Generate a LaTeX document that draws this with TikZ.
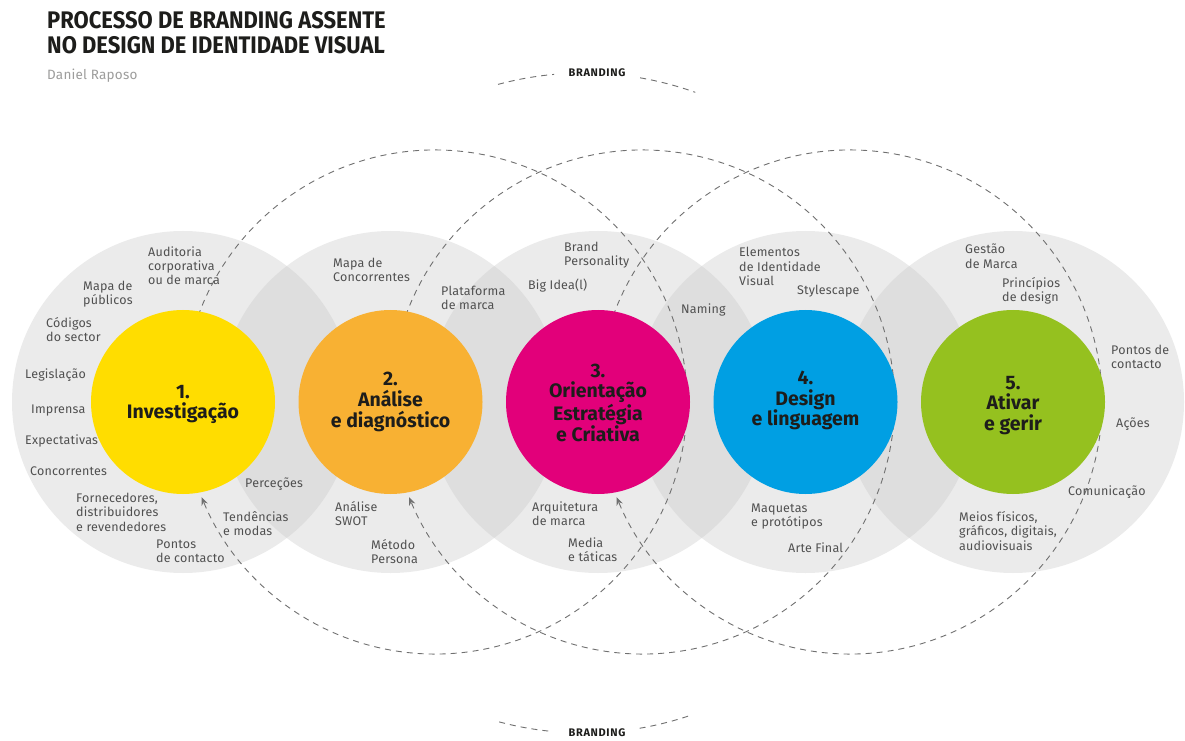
\documentclass[tikz,border=0pt]{standalone}
\usepackage{fontspec}
\setmainfont{Fira Sans}
\usetikzlibrary{arrows.meta}
\definecolor{cyel}{HTML}{FFDD00}
\definecolor{corg}{HTML}{F8B133}
\definecolor{cmag}{HTML}{E2007A}
\definecolor{cblu}{HTML}{009FE3}
\definecolor{cgrn}{HTML}{95C11F}
\definecolor{halogray}{HTML}{C6C6C6}
\definecolor{labelc}{HTML}{505050}
\definecolor{titlec}{HTML}{1D1D1B}
\definecolor{authorc}{HTML}{9D9D9C}
\definecolor{dashc}{HTML}{707070}
\begin{document}
\begin{tikzpicture}[x=1pt,y=1pt,
  lbl/.style={anchor=base west, align=left, inner sep=0pt, text=labelc, font=\fontsize{12.5}{14.5}\selectfont\addfontfeature{LetterSpace=1.5}},
  ctr/.style={align=center, inner sep=0pt, text=titlec, font=\bfseries\fontsize{19.5}{20.8}\selectfont},
  halo/.style={circle, fill=halogray, fill opacity=0.35, minimum size=342pt, inner sep=0pt, outer sep=0pt},
  core/.style={circle, minimum size=184pt, inner sep=0pt, outer sep=0pt},
  flow/.style={draw=dashc, line width=0.9pt, dash pattern=on 6pt off 5pt, -{Stealth[length=8pt,width=6.5pt]}},
  brand/.style={draw=dashc, line width=0.9pt, dash pattern=on 6pt off 5pt},
  brandtxt/.style={inner sep=0pt, text=titlec, font=\bfseries\fontsize{11}{13}\selectfont\addfontfeature{LetterSpace=6}}
]
\fill[white] (0,0) rectangle (1185,740);
\useasboundingbox (0,0) rectangle (1185,740);

% title
\node[anchor=base west, align=left, inner sep=0pt, text=titlec, font=\bfseries\fontsize{24}{25}\selectfont\addfontfeature{FakeStretch=0.915}] (title) at (47,686) {PROCESSO DE BRANDING ASSENTE\\NO DESIGN DE IDENTIDADE VISUAL};
\node[anchor=base west, inner sep=0pt, text=authorc, font=\fontsize{13.5}{15}\selectfont\addfontfeature{LetterSpace=1.5}] (author) at (47,660) {Daniel Raposo};

% centres
\coordinate (c1) at (183,338);
\coordinate (c2) at (390.5,338);
\coordinate (c3) at (598,338);
\coordinate (c4) at (805.5,338);
\coordinate (c5) at (1013,338);
\coordinate (d1) at (435,338);
\coordinate (d2) at (642.5,338);
\coordinate (d3) at (850,338);
\coordinate (bc) at (584,337);

% halos
\node[halo] (h1) at (c1) {};
\node[halo] (h2) at (c2) {};
\node[halo] (h3) at (c3) {};
\node[halo] (h4) at (c4) {};
\node[halo] (h5) at (c5) {};

% branding arcs
\draw[brand] (bc) ++(105.1:330) arc[start angle=105.1, end angle=95.2, radius=330];
\draw[brand] (bc) ++(80.2:330) arc[start angle=80.2, end angle=70.3, radius=330];
\draw[brand] (bc) ++(255.1:330) arc[start angle=255.1, end angle=264.6, radius=330];
\draw[brand] (bc) ++(279.7:330) arc[start angle=279.7, end angle=289.1, radius=330];
\node[brandtxt] (brtop) at (597,667) {BRANDING};
\node[brandtxt] (brbot) at (597,7) {BRANDING};

% flow circles
\draw[flow] (d1) ++(165:252) arc[start angle=165, end angle=-157.8, radius=252];
\draw[flow] (d2) ++(165:252) arc[start angle=165, end angle=-157.8, radius=252];
\draw[flow] (d3) ++(165:252) arc[start angle=165, end angle=-157.8, radius=252];

% cores
\node[core, fill=cyel] (k1) at (c1) {};
\node[core, fill=corg] (k2) at (c2) {};
\node[core, fill=cmag] (k3) at (c3) {};
\node[core, fill=cblu] (k4) at (c4) {};
\node[core, fill=cgrn] (k5) at (c5) {};

\node[ctr] (t1) at (183,335.5) {1.\\Investigação};
\node[ctr] (t2) at (390.5,338) {2.\\Análise\\e diagnóstico};
\node[ctr] (t3) at (598,337.5) {3.\\Orientação\\Estratégia\\e Criativa};
\node[ctr] (t4) at (805.5,339.5) {4.\\Design\\e linguagem};
\node[ctr] (t5) at (1013,334.5) {5.\\Ativar\\e gerir};

% labels stage 1
\node[lbl] (a1) at (148,455) {Auditoria\\corporativa\\ou de marca};
\node[lbl] (a2) at (83,435.5) {Mapa de\\públicos};
\node[lbl] (a3) at (46,398.5) {Códigos\\do sector};
\node[lbl] (a4) at (25,362) {Legislação};
\node[lbl] (a5) at (31,327) {Imprensa};
\node[lbl] (a6) at (25,296) {Expectativas};
\node[lbl] (a7) at (30,265) {Concorrentes};
\node[lbl] (a8) at (76,209) {Fornecedores,\\distribuidores\\e revendedores};
\node[lbl] (a9) at (156,177.5) {Pontos\\de contacto};
\node[lbl] (a10) at (223,204.5) {Tendências\\e modas};
\node[lbl] (a11) at (245,253) {Perceções};
% stage 2
\node[lbl] (b1) at (333,458.5) {Mapa de\\Concorrentes};
\node[lbl] (b2) at (441,430.5) {Plataforma\\de marca};
\node[lbl] (b3) at (335,214.5) {Análise\\SWOT};
\node[lbl] (b4) at (371,176.5) {Método\\Persona};
% stage 3
\node[lbl] (e1) at (564,474.5) {Brand\\Personality};
\node[lbl] (e2) at (528,450) {Big Idea(l)};
\node[lbl] (e3) at (681,426) {Naming};
\node[lbl] (e4) at (532,214.5) {Arquitetura\\de marca};
\node[lbl] (e5) at (568,178.5) {Media\\e táticas};
% stage 4
\node[lbl] (f1) at (739,454) {Elementos\\de Identidade\\Visual};
\node[lbl] (f2) at (797,445) {Stylescape};
\node[lbl] (f3) at (751,213.5) {Maquetas\\e protótipos};
\node[lbl] (f4) at (788,188) {Arte Final};
% stage 5
\node[lbl] (g1) at (965,471.5) {Gestão\\de Marca};
\node[lbl] (g2) at (1002,438.5) {Princípios\\de design};
\node[lbl] (g3) at (1111,371.5) {Pontos de\\contacto};
\node[lbl] (g4) at (1116,313) {Ações};
\node[lbl] (g5) at (1068,245) {Comunicação};
\node[lbl] (g6) at (959,190) {Meios físicos,\\gráficos, digitais,\\audiovisuais};
\end{tikzpicture}
\end{document}
